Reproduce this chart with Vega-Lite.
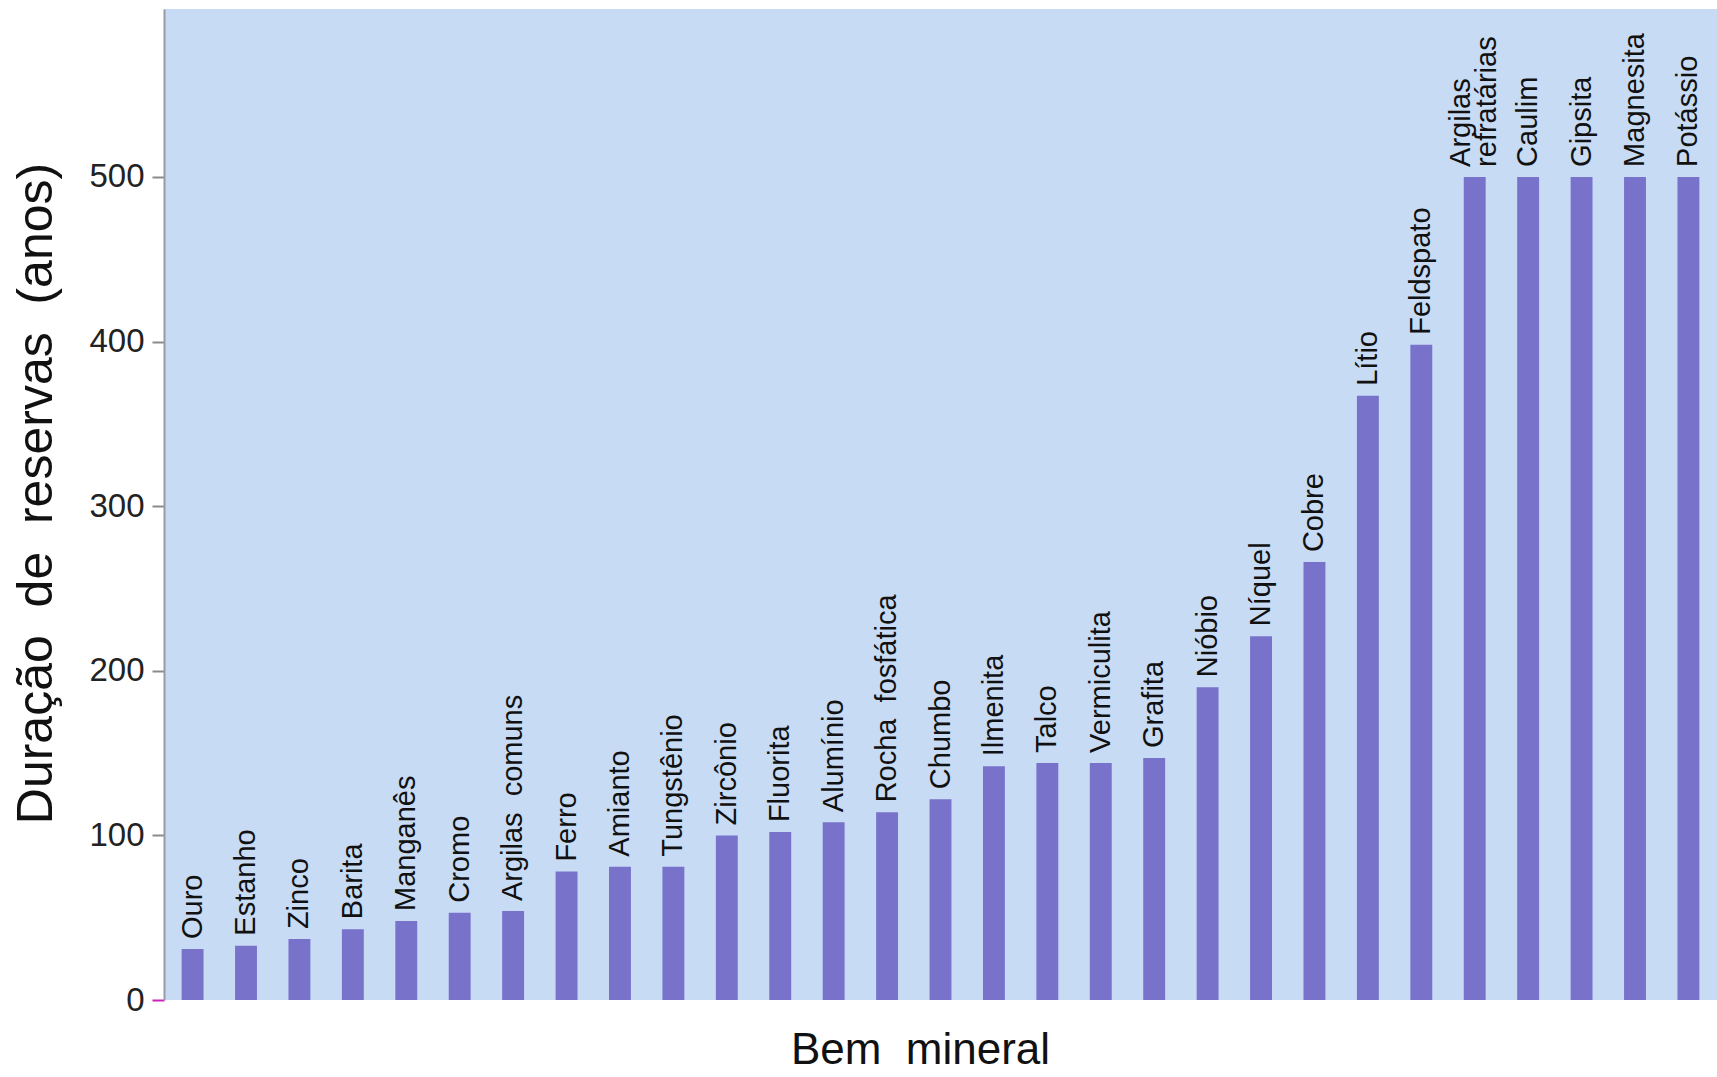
{
  "$schema": "https://vega.github.io/schema/vega-lite/v6.json",
  "autosize": {"type": "none"},
  "padding": {"left": 164, "top": 9, "right": 0, "bottom": 77},
  "width": 1553,
  "height": 991,
  "background": "#ffffff",
  "config": {
    "view": {"fill": "#c8dbf5", "stroke": null},
    "font": "Liberation Sans"
  },
  "data": {
    "values": [
      {"mineral": "Ouro", "anos": 31},
      {"mineral": "Estanho", "anos": 33},
      {"mineral": "Zinco", "anos": 37},
      {"mineral": "Barita", "anos": 43},
      {"mineral": "Manganês", "anos": 48},
      {"mineral": "Cromo", "anos": 53},
      {"mineral": "Argilas\u00a0 comuns", "anos": 54},
      {"mineral": "Ferro", "anos": 78},
      {"mineral": "Amianto", "anos": 81},
      {"mineral": "Tungstênio", "anos": 81},
      {"mineral": "Zircônio", "anos": 100},
      {"mineral": "Fluorita", "anos": 102},
      {"mineral": "Alumínio", "anos": 108},
      {"mineral": "Rocha\u00a0 fosfática", "anos": 114},
      {"mineral": "Chumbo", "anos": 122},
      {"mineral": "Ilmenita", "anos": 142},
      {"mineral": "Talco", "anos": 144},
      {"mineral": "Vermiculita", "anos": 144},
      {"mineral": "Grafita", "anos": 147},
      {"mineral": "Nióbio", "anos": 190},
      {"mineral": "Níquel", "anos": 221},
      {"mineral": "Cobre", "anos": 266},
      {"mineral": "Lítio", "anos": 367},
      {"mineral": "Feldspato", "anos": 398},
      {"mineral": "Argilas\nrefratárias", "anos": 500},
      {"mineral": "Caulim", "anos": 500},
      {"mineral": "Gipsita", "anos": 500},
      {"mineral": "Magnesita", "anos": 500},
      {"mineral": "Potássio", "anos": 500}
    ]
  },
  "encoding": {
    "x": {
      "field": "mineral",
      "type": "nominal",
      "sort": null,
      "scale": {"paddingInner": 0.59, "paddingOuter": 0.33},
      "axis": {
        "title": "Bem\u00a0 mineral",
        "labels": false,
        "ticks": false,
        "domain": false,
        "titleFontSize": 44,
        "titleFontWeight": "normal",
        "titleColor": "#111111",
        "titlePadding": 28,
        "titleX": 756,
        "titleAnchor": "middle"
      }
    },
    "y": {
      "field": "anos",
      "type": "quantitative",
      "scale": {"domain": [0, 602], "nice": false},
      "axis": {
        "title": "Duração\u00a0 de\u00a0 reservas\u00a0 (anos)",
        "values": [0, 100, 200, 300, 400, 500],
        "grid": false,
        "domainColor": "#9a9aa0",
        "domainWidth": 2,
        "tickColor": {"condition": {"test": "datum.value === 0", "value": "#cc22bb"}, "value": "#8a8a90"},
        "tickSize": 12,
        "tickWidth": 2,
        "labelFontSize": 33,
        "labelColor": "#222222",
        "labelPadding": 8,
        "titleFontSize": 50,
        "titleFontWeight": "normal",
        "titleColor": "#111111",
        "titleX": -128,
        "titleY": 484,
        "titleBaseline": "middle"
      }
    }
  },
  "layer": [
    {
      "mark": {"type": "bar", "color": "#7872cb"}
    },
    {
      "transform": [{"filter": "indexof(datum.mineral, '\\n') < 0"}],
      "mark": {
        "type": "text",
        "angle": -90,
        "align": "left",
        "baseline": "middle",
        "dx": 10,
        "fontSize": 29,
        "color": "#111111"
      },
      "encoding": {
        "text": {"field": "mineral", "type": "nominal"}
      }
    },
    {
      "transform": [{"filter": "indexof(datum.mineral, '\\n') >= 0"}],
      "mark": {
        "type": "text",
        "angle": -90,
        "align": "left",
        "baseline": "middle",
        "dx": 10,
        "dy": -14,
        "fontSize": 29,
        "color": "#111111",
        "lineBreak": "\n",
        "lineHeight": 26
      },
      "encoding": {
        "text": {"field": "mineral", "type": "nominal"}
      }
    }
  ]
}
